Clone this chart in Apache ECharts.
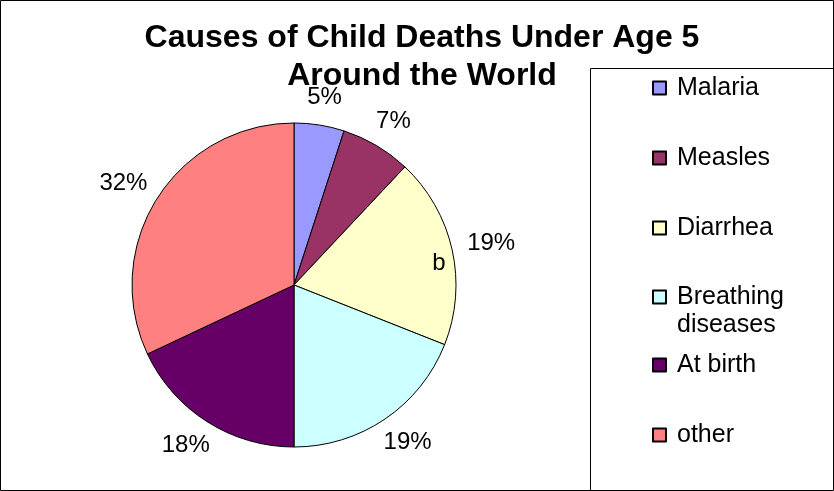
<!DOCTYPE html>
<html><head><meta charset="utf-8">
<script src="https://cdn.jsdelivr.net/npm/echarts@6/dist/echarts.min.js"></script>
<style>html,body{margin:0;padding:0;background:#fff}#c{width:834px;height:491px}</style>
</head><body><div id="c"></div>
<script>
const titleLines = ['Causes of Child Deaths Under Age 5', 'Around the World'];
const categories = ['Malaria', 'Measles', 'Diarrhea', 'Breathing diseases', 'At birth', 'other'];
const values = [5, 7, 19, 19, 18, 32];
const colors = ['#9999FF', '#993366', '#FFFFCC', '#CCFFFF', '#660066', '#FF8080'];
const legendLabels = ['Malaria', 'Measles', 'Diarrhea', 'Breathing\ndiseases', 'At birth', 'other'];
const strayText = 'b';

const FONT = '"Liberation Sans", Arial, sans-serif';
const CX = 294, CY = 285, R = 162, LABEL_R = 178;
const chart = echarts.init(document.getElementById('c'), null, {renderer: 'canvas'});

const pieData = categories.map((n, i) => ({name: n, value: values[i], itemStyle: {color: colors[i]}}));

const LH = 28;
const legendCenters = [88, 158, 228, 297, 365, 435];
const legends = categories.map((n, i) => {
  const lines = legendLabels[i].split('\n');
  const multi = lines.length > 1;
  const txt = lines.map(l => '{g|}{t|' + l + '}').join('\n');
  return {
    data: [n], orient: 'vertical', left: 652,
    top: multi ? legendCenters[i] - LH * 1.5 : legendCenters[i] - LH / 2,
    padding: 0, icon: 'rect', itemWidth: 13, itemHeight: 13, itemGap: 0,
    selectedMode: false,
    formatter: () => (multi ? '\n' : '') + txt,
    textStyle: {
      fontFamily: FONT, fontSize: 25, color: '#000', lineHeight: LH,
      rich: {g: {width: 6, lineHeight: LH}, t: {fontFamily: FONT, fontSize: 25, color: '#000', lineHeight: LH}}
    }
  };
});

// Place each percentage label just outside the pie, along its slice's mid-angle,
// pushed out by the half-extent of its own box (Excel "outside end" style).
function outsideEnd(params) {
  const r = params.labelRect;
  const lx = r.x + r.width / 2, ly = r.y + r.height / 2;
  let ux = lx - CX, uy = ly - CY;
  const len = Math.sqrt(ux * ux + uy * uy) || 1;
  ux /= len; uy /= len;
  return {
    x: CX + ux * LABEL_R + ux * r.width / 2,
    y: CY + uy * LABEL_R + uy * r.height / 2,
    align: 'center', verticalAlign: 'middle'
  };
}

chart.setOption({
  animation: false,
  title: {
    text: titleLines.join('\n'), left: 422, top: 19, textAlign: 'center', padding: 0,
    textStyle: {fontFamily: FONT, fontWeight: 'bold', fontSize: 32, color: '#000', lineHeight: 38}
  },
  legend: legends,
  graphic: [
    {type: 'rect', shape: {x: 0.5, y: 0.5, width: 833, height: 490}, style: {fill: 'none', stroke: '#000', lineWidth: 1}, z: 100},
    {type: 'rect', shape: {x: 590.5, y: 68.5, width: 300, height: 500}, style: {fill: 'none', stroke: '#000', lineWidth: 1}, z: 100},
    {type: 'text', x: 439, y: 263, z: 100, style: {text: strayText, font: '24px ' + FONT, fill: '#000', align: 'center', verticalAlign: 'middle'}}
  ],
  series: [
    {
      type: 'pie', center: [CX, CY], radius: R, startAngle: 90, clockwise: true,
      data: pieData, avoidLabelOverlap: false,
      label: {show: true, position: 'inside', formatter: '{c}%', fontFamily: FONT, fontSize: 24, color: '#000'},
      labelLine: {show: false},
      labelLayout: outsideEnd,
      itemStyle: {borderColor: '#000', borderWidth: 1}, emphasis: {disabled: true}
    }
  ]
});
</script></body></html>
